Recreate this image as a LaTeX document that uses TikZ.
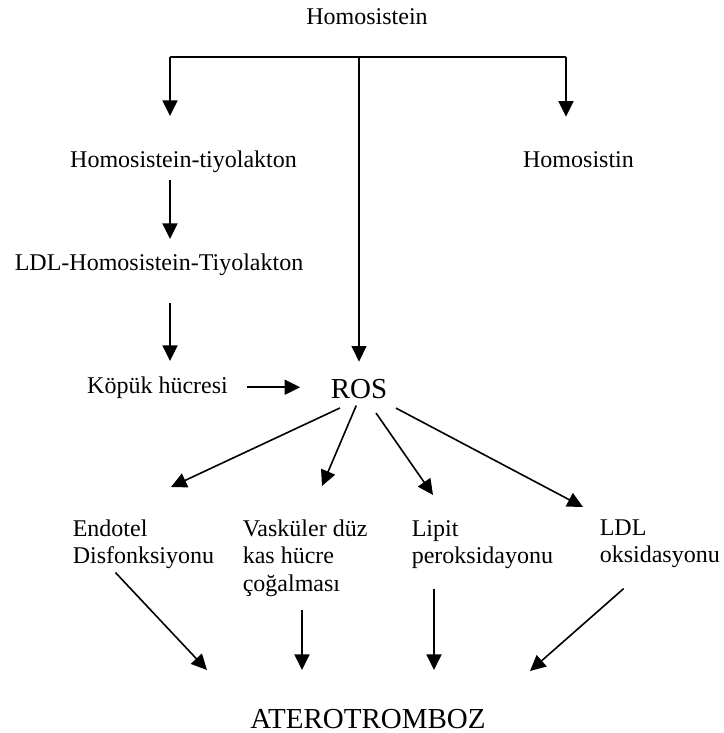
\documentclass[tikz,border=0pt]{standalone}
\usepackage{fontspec}
\setmainfont{Liberation Serif}
\usetikzlibrary{arrows.meta}

\tikzset{
	lbl/.style = {inner sep = 0pt, anchor = base},
	blk/.style = {inner sep = 0pt, anchor = base west},
	big/.style = {font = \fontsize{14.5}{17}\selectfont}
}

\newcommand{\txtblock}[1]{\begin{tabular}[t]{@{}l@{}}#1\end{tabular}}

\begin{document}
\begin{tikzpicture}[x = 0.5pt, y = -0.5pt, > = {Triangle[length = 7.8pt, width = 7.5pt]}, line width = 0.8pt, font = \fontsize{12}{13.75}\selectfont]

	% Page frame

	\useasboundingbox (0, 0) rectangle (723, 733);

	% Labels

	\node [lbl] (hcy) at (367, 25) {Homosistein};
	\node [lbl] (htl) at (183.5, 167) {Homosistein-tiyolakton};
	\node [lbl] (hcn) at (578.5, 167) {Homosistin};
	\node [lbl] (ldlh) at (159, 270) {LDL-Homosistein-Tiyolakton};
	\node [lbl] (kopuk) at (157.5, 393) {Köpük hücresi};
	\node [lbl, big] (ros) at (359, 398) {ROS};

	\node [blk] (endo) at (72, 536) {\txtblock{Endotel\\Disfonksiyonu}};
	\node [blk] (vsmc) at (242, 536) {\txtblock{Vasküler düz\\kas hücre\\çoğalması}};
	\node [blk] (lipit) at (411, 536) {\txtblock{Lipit\\peroksidayonu}};
	\node [blk] (ldlox) at (599, 535) {\txtblock{LDL\\oksidasyonu}};

	\node [lbl, big] (athero) at (368, 728) {ATEROTROMBOZ};

	% Branch bar under Homosistein

	\coordinate (barL) at (170, 57);
	\coordinate (barM) at (359, 57);
	\coordinate (barR) at (566, 57);

	\draw (barL) -- (barR);
	\draw [->, shorten > = 16.8pt] (barL) -- (barL |- htl.north);
	\draw [->, shorten > = 16.8pt] (barR) -- (barR |- hcn.north);
	\draw [->, shorten > = 8.2pt] (barM) -- (ros.north);

	% Left column

	\draw [->, shorten < = 3.4pt, shorten > = 6.8pt] (barL |- htl.south) -- (barL |- ldlh.north);
	\draw [->, shorten < = 13.4pt, shorten > = 7.3pt] (barL |- ldlh.south) -- (barL |- kopuk.north);
	\draw [->, shorten < = 9.1pt, shorten > = 14.9pt] (kopuk.east) -- (kopuk.east -| ros.west);

	% ROS fan

	\coordinate (t1) at (171, 487);
	\coordinate (t2) at (322, 486);
	\coordinate (t3) at (433, 495);
	\coordinate (t4) at (583, 507);

	\draw [->, shorten < = 10.5pt] (ros.south) -- (t1);
	\draw [->, shorten < = 3.5pt] (ros.south) -- (t2);
	\draw [->, shorten < = 14.9pt] (ros.center) -- (t3);
	\draw [->, shorten < = 20.9pt] (ros.center) -- (t4);

	% Into ATEROTROMBOZ

	\coordinate (a1) at (207, 670);
	\coordinate (a2) at (302, 670);
	\coordinate (a3) at (434, 670);
	\coordinate (a4) at (530, 671);

	\draw [->] ([xshift = -14pt]endo.south) -- (a1);
	\draw [->, shorten < = 4.9pt] (vsmc.south -| a2) -- (a2);
	\draw [->, shorten < = 8.1pt] (lipit.south -| a3) -- (a3);
	\draw [->, shorten < = 12.9pt] ([xshift = -8.4pt]ldlox.south) -- (a4);

\end{tikzpicture}
\end{document}
